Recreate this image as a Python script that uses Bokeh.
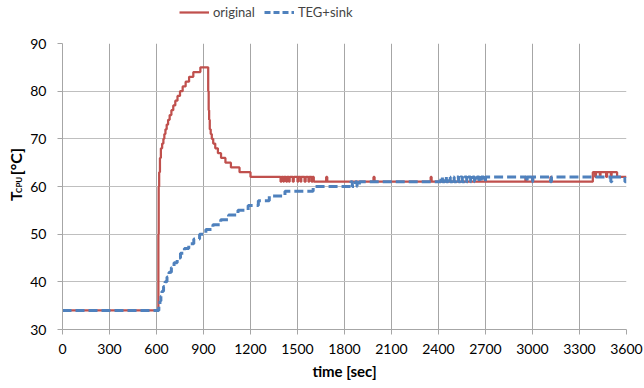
import math
from bokeh.plotting import figure
from bokeh.layouts import row, column
from bokeh.models import ColumnDataSource, FixedTicker, Legend, LegendItem, Range1d
from bokeh.core.properties import value
from bokeh.embed import file_html
from bokeh.resources import INLINE

# ---- data ----
red_t = [0, 612, 614, 617, 622, 628, 636, 644, 650, 657,
         665, 674, 684, 695, 707, 720, 734, 750, 767, 786,
         808, 835, 880, 930, 933, 936, 940, 946, 953, 962,
         975, 992, 1012, 1040, 1075, 1130, 1200, 1392, 1398, 1410,
         1414, 1428, 1434, 1445, 1450, 1470, 1476, 1500, 1505, 1520,
         1524, 1545, 1552, 1570, 1575, 1590, 1596, 1604, 1683, 1690,
         1985, 1992, 2350, 2356, 2955, 2961, 2998, 3004, 3115, 3121,
         3385, 3400, 3405, 3430, 3434, 3470, 3476, 3500, 3505, 3540,
         3600]
red_v = [34, 50, 60, 63, 66, 68, 69, 70, 71, 72,
         73, 74, 75, 76, 77, 78, 79, 80, 81, 82,
         83, 84, 85, 80, 76, 74, 72, 71, 70, 69,
         68, 67, 66, 65, 64, 63, 62, 61, 62, 61,
         62, 61, 62, 61, 62, 61, 62, 61, 62, 61,
         62, 61, 62, 61, 62, 61, 62, 61, 62, 61,
         62, 61, 62, 61, 62, 61, 62, 61, 62, 61,
         63, 62, 63, 62, 63, 62, 63, 62, 63, 62,
         62]

blue_t = [0, 615, 622, 628, 635, 645, 655, 667, 680, 695,
          712, 732, 753, 778, 806, 838, 875, 915, 960, 1010,
          1060, 1120, 1185, 1250, 1320, 1420, 1600, 1840, 1850, 1870,
          1880, 1895, 2415, 2425, 2440, 2450, 2462, 2475, 2490, 2500,
          2515, 2528, 2540, 2552, 2566, 2580, 2590, 2605, 2618, 2630,
          2645, 2660, 2672, 2690, 2700, 2730, 2960, 2966, 2995, 3001,
          3115, 3121, 3500, 3506, 3590, 3600]
blue_v = [34, 35, 36, 37, 38, 39, 40, 41, 42, 43,
          44, 45, 46, 47, 48, 49, 50, 51, 52, 53,
          54, 55, 56, 57, 58, 59, 60, 61, 60, 61,
          60, 61, 62, 61, 62, 61, 62, 61, 62, 61,
          62, 61, 62, 61, 62, 61, 62, 61, 62, 61,
          62, 61, 62, 61, 62, 62, 61, 62, 61, 62,
          61, 62, 61, 62, 61, 61]

x_ticks = list(range(0, 3601, 300))
y_ticks = [30, 40, 50, 60, 70, 80, 90]
series_names = ["original", "TEG+sink"]
ylabel_parts = ["T", "CPU", "[°C]"]
xlabel = "time [sec]"

FONT = "Lato"
W, H = 644, 388
TOP = 30          # height of the legend strip
LEFT = 26         # width of the y-title strip
MAIN_H = H - TOP

RED = "#C0504D"
BLUE = "#4F81BD"
red_src = ColumnDataSource(dict(t=red_t, v=red_v))
blue_src = ColumnDataSource(dict(t=blue_t, v=blue_v))

# ---- top strip: legend ----
top = figure(width=W, height=TOP, output_backend="svg", toolbar_location=None,
             x_range=Range1d(0, W), y_range=Range1d(0, TOP),
             x_axis_type=None, y_axis_type=None, min_border=0)
top.outline_line_color = None
top.grid.visible = False
# same series, kept out of this strip's view; only used as legend glyph sources
lr = top.step(x="t", y="v", source=red_src, mode="after", line_color=RED, line_width=2.25)
lb = top.step(x="t", y="v", source=blue_src, mode="after", line_color=BLUE, line_width=3,
              line_dash="6 3")
legend = Legend(items=[LegendItem(label=series_names[0], renderers=[lr]),
                       LegendItem(label=series_names[1], renderers=[lb])],
                orientation="horizontal", location=(179, 8))
legend.padding = 0
legend.margin = 0
legend.spacing = 9
legend.glyph_width = 30
legend.glyph_height = 20
legend.label_standoff = 4
legend.label_text_font = FONT
legend.label_text_font_size = "13px"
legend.background_fill_alpha = 0
legend.border_line_color = None
top.add_layout(legend)

# ---- left strip: y-axis title (with subscript) ----
lab = figure(width=LEFT, height=MAIN_H, output_backend="svg", toolbar_location=None,
             x_range=Range1d(0, LEFT), y_range=Range1d(0, MAIN_H),
             x_axis_type=None, y_axis_type=None, min_border=0)
lab.outline_line_color = None
lab.grid.visible = False
lab.text(x=[15], y=[H - 227], text=[ylabel_parts[0]], angle=math.pi / 2,
         text_font=value(FONT), text_font_size="16px", text_font_style="bold",
         text_align="left", text_baseline="middle", text_color="#000000")
lab.text(x=[18.5], y=[H - 217], text=[ylabel_parts[1]], angle=math.pi / 2,
         text_font=value(FONT), text_font_size="8px", text_font_style="bold",
         text_align="left", text_baseline="middle", text_color="#000000")
lab.text(x=[15], y=[H - 195], text=[ylabel_parts[2]], angle=math.pi / 2,
         text_font=value(FONT), text_font_size="16px", text_font_style="bold",
         text_align="left", text_baseline="middle", text_color="#000000")

# ---- main chart ----
p = figure(width=W - LEFT, height=MAIN_H, output_backend="svg", toolbar_location=None,
           x_range=Range1d(0, 3600), y_range=Range1d(30, 90),
           min_border_left=62 - LEFT, min_border_right=18, min_border_top=43 - TOP,
           min_border_bottom=59)
p.outline_line_color = None
p.background_fill_color = "white"

p.step(x="t", y="v", source=red_src, mode="after", line_color=RED, line_width=2.25)
p.step(x="t", y="v", source=blue_src, mode="after", line_color=BLUE, line_width=3,
       line_dash="9 4")

p.xaxis.ticker = FixedTicker(ticks=x_ticks)
p.yaxis.ticker = FixedTicker(ticks=y_ticks)
for ax in (p.xaxis[0], p.yaxis[0]):
    ax.axis_line_color = "#a6a6a6"
    ax.major_tick_line_color = "#a6a6a6"
    ax.minor_tick_line_color = None
    ax.major_tick_out = 5
    ax.major_tick_in = 0
    ax.major_label_text_font = FONT
    ax.major_label_text_font_size = "14px"
    ax.major_label_text_color = "#000000"
p.xaxis.major_label_standoff = 9
p.yaxis.major_label_standoff = 11

p.xaxis.axis_label = xlabel
p.xaxis.axis_label_text_font = FONT
p.xaxis.axis_label_text_font_size = "15px"
p.xaxis.axis_label_text_font_style = "bold"
p.xaxis.axis_label_text_color = "#000000"
p.xaxis.axis_label_standoff = 5

p.xgrid.grid_line_color = "#a6a6a6"
p.ygrid.grid_line_color = "#bfbfbf"

layout = column(top, row(lab, p, spacing=0), spacing=0)
open("out.html", "w").write(file_html(layout, INLINE))
